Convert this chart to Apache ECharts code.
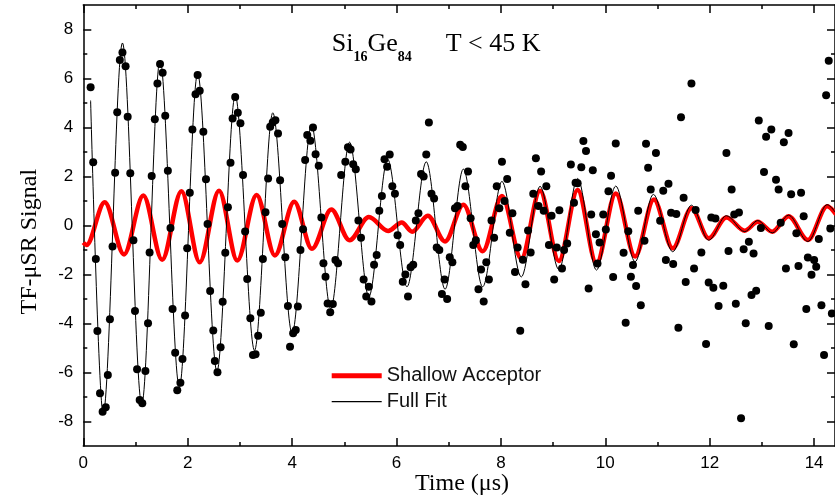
<!DOCTYPE html>
<html><head><meta charset="utf-8">
<script src="https://cdn.jsdelivr.net/npm/echarts@6/dist/echarts.min.js"></script>
<style>html,body{margin:0;padding:0;background:#fff}#c{width:835px;height:496px}</style>
</head><body><div id="c"></div>
<script>
const xMajorTicks = [0, 2, 4, 6, 8, 10, 12, 14];
const xMinorTicks = [1, 3, 5, 7, 9, 11, 13];
const yMajorTicks = [-8, -6, -4, -2, 0, 2, 4, 6, 8];
const yMinorTicks = [-7, -5, -3, -1, 1, 3, 5, 7];

// measured TF-muSR data points [time (us), signal]
const dataPoints = [
 [0.14,5.64],[0.19,2.58],[0.24,-1.37],[0.27,-4.31],[0.32,-6.85],[0.37,-7.6],[0.43,-7.42],[0.47,-6.1],[0.51,-3.83],[0.56,-0.86],
 [0.61,2.15],[0.65,4.62],[0.70,6.76],[0.75,7.06],[0.81,6.5],[0.85,4.44],[0.90,2.13],[0.96,-0.6],[0.99,-3.49],[1.03,-5.87],
 [1.08,-7.12],[1.13,-7.26],[1.19,-5.94],[1.24,-3.99],[1.27,-1.1],[1.31,2.02],[1.37,4.34],[1.42,5.8],[1.47,6.59],[1.52,6.23],
 [1.57,4.48],[1.62,2.23],[1.67,-0.1],[1.71,-3.41],[1.76,-5.19],[1.80,-6.72],[1.86,-6.42],[1.90,-5.45],[1.95,-3.67],[1.99,-0.93],
 [2.04,1.34],[2.09,3.92],[2.15,5.36],[2.19,6.14],[2.23,5.5],[2.30,3.83],[2.35,1.89],[2.38,0.06],[2.43,-2.67],[2.49,-4.29],
 [2.52,-5.53],[2.57,-5.99],[2.63,-4.97],[2.67,-3.11],[2.72,-1.11],[2.77,0.74],[2.82,2.56],[2.86,4.37],[2.91,5.25],[2.96,4.6],
 [3.01,4.17],[3.06,2.06],[3.10,-0.24],[3.14,-2.18],[3.20,-3.79],[3.25,-5.29],[3.30,-5.26],[3.35,-4.5],[3.40,-3.56],[3.44,-1.37],
 [3.49,0.54],[3.54,1.92],[3.58,4.03],[3.63,4.21],[3.68,4.3],[3.73,3.76],[3.77,1.85],[3.81,0.06],[3.87,-1.3],[3.92,-3.29],
 [3.96,-4.95],[4.02,-4.4],[4.07,-4.27],[4.11,-3.31],[4.16,-1.0],[4.21,-0.15],[4.25,2.67],[4.29,3.69],[4.35,3.46],[4.40,4.0],
 [4.45,2.91],[4.51,2.44],[4.56,0.33],[4.60,-1.54],[4.64,-2.09],[4.68,-3.18],[4.73,-3.54],[4.78,-3.2],[4.83,-1.41],[4.88,-1.54],
 [4.94,2.06],[5.02,2.6],[5.07,3.19],
 [5.12,3.1],[5.17,2.5],[5.22,2.3],[5.27,0.2],[5.32,-0.5],[5.37,-2.2],[5.42,-2.9],[5.47,-2.5],[5.52,-3.1],[5.57,-1.6],
 [5.62,-1.2],[5.67,0.6],[5.72,1.2],[5.77,2.7],[5.82,2.4],[5.87,2.9],[5.92,1.6],[5.97,1.3],[6.02,-0.4],[6.07,-0.8],
 [6.12,-2.3],[6.17,-2.0],[6.22,-2.9],[6.27,-1.7],[6.32,-1.6],[6.37,0.2],[6.42,0.5],[6.47,2.1],[6.52,2.0],[6.57,2.9],
 [6.62,4.2],[6.67,1.3],[6.72,1.1],[6.77,-0.9],[6.82,-1.0],[6.87,-2.8],[6.92,-2.2],[6.97,-3.0],[7.02,-1.3],[7.07,-1.5],
 [7.12,0.7],[7.17,0.8],[7.22,3.3],[7.27,3.2],[7.32,1.6],[7.37,2.2],[7.42,0.3],[7.47,-0.8],[7.52,-0.6],[7.57,-2.6],
 [7.62,-1.8],[7.67,-3.1],[7.72,-1.5],[7.77,-2.2],[7.82,0.2],[7.87,-0.5],[7.92,1.6],[7.97,0.7],[8.02,2.6],[8.07,1.0],
 [8.12,1.9],[8.17,-0.3],[8.22,0.5],[8.27,-1.9],[8.32,-0.9],[8.37,-4.3],[8.42,-1.4],[8.47,-2.4],[8.52,-0.2],[8.57,-1.1],
 [8.62,1.3],[8.67,2.74],[8.72,0.8],[8.77,2.2],[8.82,0.6],[8.87,1.6],[8.92,-0.8],[8.97,0.4],[9.02,-2.2],[9.07,-0.9],
 [9.12,0.62],[9.17,-1.75],[9.21,-1.0],[9.27,-0.73],[9.34,2.49],[9.40,0.93],[9.43,1.74],[9.47,1.72],[9.54,2.38],[9.58,3.45],
 [9.63,3.04],[9.68,-2.57],[9.73,0.45],[9.76,2.26],[9.82,-0.36],[9.85,-1.55],[9.89,-0.69],[9.96,0.45],[10.01,-0.16],[10.06,1.4],
 [10.11,2.03],[10.15,-2.1],[10.20,3.35],[10.35,-1.11],[10.39,-3.97],[10.44,-0.23],[10.49,-2.09],[10.53,-1.61],[10.59,-2.47],[10.63,0.6],
 [10.68,-3.25],[10.75,-0.62],[10.78,3.34],[10.82,2.36],[10.87,1.47],[10.97,2.96],[11.05,0.19],[11.11,1.42],[11.16,-1.41],[11.21,1.7],
 [11.26,0.52],[11.30,-1.57],[11.36,0.47],[11.40,-4.17],[11.45,4.42],[11.50,1.13],[11.54,-2.31],[11.65,5.8],[11.70,-1.75],[11.73,0.63],
 [11.84,-1.1],[11.93,-4.84],[11.98,-2.33],[12.03,0.33],[12.07,-2.54],[12.11,0.29],[12.17,-3.29],[12.26,-2.46],[12.32,2.96],[12.36,-1.04],
 [12.42,1.47],[12.47,0.45],[12.50,-3.19],[12.56,0.53],[12.60,-7.87],[12.65,-0.97],[12.69,-3.99],[12.75,-0.66],[12.80,-2.84],[12.84,-1.14],
 [12.89,-2.66],[12.94,4.29],[12.98,-0.1],[13.04,2.18],[13.08,3.62],[13.13,-4.1],[13.18,3.92],[13.27,1.87],[13.32,1.47],[13.36,0.11],
 [13.42,3.4],[13.46,-1.75],[13.51,3.78],[13.56,1.28],[13.61,-4.85],[13.66,-0.32],[13.70,-1.65],[13.75,1.34],[13.80,0.38],[13.85,-3.41],
 [13.88,-1.31],[13.95,-2.01],[14.00,-1.41],[14.04,-1.68],[14.09,-0.55],[14.14,-3.25],[14.19,-5.29],[14.23,5.32],[14.28,6.72],[14.31,-0.12],
 [14.34,-3.59]
];

// Full fit curve: turning points
const fullFitT = [0.14,0.38,0.75,1.12,1.47,1.84,2.19,2.56,2.91,3.28,3.63,4.0,4.37,4.74,5.1,5.47,5.83,6.2,6.57,6.93,7.28,7.65,8.02,8.39,8.75,9.11,9.47,9.83,10.2,10.57,10.92,11.29,11.65,11.98,12.32,12.67,12.92,13.2,13.51,13.88,14.25,14.42];
const fullFitY = [5.1,-7.7,7.45,-7.3,6.75,-6.6,6.2,-5.95,5.3,-5.1,4.6,-4.4,4.1,-3.4,3.4,-2.9,2.7,-2.5,2.6,-2.6,2.3,-2.5,1.8,-2.1,1.6,-1.8,1.92,-1.82,1.61,-1.48,1.27,-1.07,0.83,-0.6,0.4,-0.25,0.2,-0.3,0.42,-0.65,0.85,0.5];

// Shallow acceptor component: turning points
const acceptorT = [0,0.06,0.41,0.78,1.15,1.51,1.88,2.23,2.6,2.95,3.32,3.67,4.04,4.38,4.75,5.1,5.47,5.84,6.1,6.3,6.6,6.93,7.28,7.65,8.02,8.39,8.75,9.11,9.47,9.83,10.2,10.57,10.93,11.29,11.65,11.98,12.32,12.67,12.92,13.2,13.51,13.88,14.25,14.42];
const acceptorY = [-0.7,-0.8,0.95,-1.18,1.22,-1.4,1.4,-1.5,1.42,-1.43,1.25,-1.22,0.97,-0.95,0.65,-0.6,0.35,-0.22,0.12,-0.25,0.4,-0.65,0.85,-1.05,1.2,-1.35,1.42,-1.45,1.45,-1.55,1.31,-1.27,1.06,-0.93,0.7,-0.52,0.33,-0.21,0.15,-0.25,0.38,-0.59,0.79,0.45];

const zip = (a, b) => a.map((v, i) => [v, b[i]]);
const SANS = 'Liberation Sans, Arial, sans-serif';
const SERIF = 'Liberation Serif, Times New Roman, serif';
const gridRect = {left: 83.3, top: 5, width: 753.3, height: 441};

function xAx(gridIndex, position, ticks, len, showLine, showLabel) {
  return {type: 'value', gridIndex, position, min: 0, max: 14.4,
    axisLine: {show: showLine, onZero: false, lineStyle: {color: '#000', width: 1.5}},
    axisTick: {show: true, inside: true, length: len, customValues: ticks, lineStyle: {color: '#000', width: 1.5}},
    axisLabel: {show: showLabel, customValues: ticks, color: '#000', fontSize: 17, fontFamily: SANS, margin: 9},
    splitLine: {show: false}};
}
function yAx(gridIndex, position, ticks, len, showLine, showLabel) {
  return {type: 'value', gridIndex, position, min: -9, max: 9,
    axisLine: {show: showLine, onZero: false, lineStyle: {color: '#000', width: 1.5}},
    axisTick: {show: true, inside: true, length: len, customValues: ticks, lineStyle: {color: '#000', width: 1.5}},
    axisLabel: {show: showLabel, customValues: ticks, color: '#000', fontSize: 17, fontFamily: SANS, margin: 10},
    splitLine: {show: false}};
}
function legendRow(name, top, h) {
  return {orient: 'vertical', left: 331.7, top: top, padding: 0,
    itemWidth: 50, itemHeight: h, icon: 'rect',
    textStyle: {color: '#111', fontSize: 20, fontFamily: SANS, lineHeight: 20},
    data: [name]};
}

const chart = echarts.init(document.getElementById('c'), null, {renderer: 'canvas'});
chart.setOption({
  animation: false,
  backgroundColor: '#fff',
  grid: [Object.assign({}, gridRect), Object.assign({}, gridRect)],
  xAxis: [
    xAx(0, 'bottom', xMajorTicks, 8, true, true),
    xAx(0, 'top', xMajorTicks, 8, true, false),
    xAx(1, 'bottom', xMinorTicks, 4, false, false),
    xAx(1, 'top', xMinorTicks, 4, false, false)
  ],
  yAxis: [
    yAx(0, 'left', yMajorTicks, 8, true, true),
    yAx(0, 'right', yMajorTicks, 8, true, false),
    yAx(1, 'left', yMinorTicks, 4, false, false),
    yAx(1, 'right', yMinorTicks, 4, false, false)
  ],
  legend: [legendRow('Shallow Acceptor', 365.7, 5), legendRow('Full Fit', 391.7, 1.2)],
  graphic: [
    {type: 'text', left: 331.7, top: 31, z: 10, style: {
      text: '{a|Si}{b|16}{a|Ge}{b|84}',
      rich: {a: {fontSize: 26, fontFamily: SERIF, fill: '#000', lineHeight: 40, verticalAlign: 'middle'},
             b: {fontSize: 14, fontWeight: 'bold', fontFamily: SERIF, fill: '#000', lineHeight: 15, verticalAlign: 'bottom'}}}},
    {type: 'text', left: 445.7, top: 31, z: 10, style: {
      text: '{a|T < 45 K}',
      rich: {a: {fontSize: 26, fontFamily: SERIF, fill: '#000', lineHeight: 40, verticalAlign: 'middle'}}}},
    {type: 'text', x: 30, y: 241.7, rotation: Math.PI / 2, z: 10, style: {
      text: 'TF-\u03bcSR Signal', fontSize: 24, fontFamily: SERIF, fill: '#000', align: 'center', verticalAlign: 'middle'}},
    {type: 'text', x: 462, y: 484, z: 10, style: {
      text: 'Time (\u03bcs)', fontSize: 24, fontFamily: SERIF, fill: '#000', align: 'center', verticalAlign: 'middle'}}
  ],
  series: [
    {name: 'Shallow Acceptor', type: 'line', xAxisIndex: 0, yAxisIndex: 0, data: zip(acceptorT, acceptorY),
     smooth: 0.33, smoothMonotone: 'x', symbol: 'none', z: 2,
     lineStyle: {color: '#ff0000', width: 4.5}, itemStyle: {color: '#ff0000'}},
    {name: 'Full Fit', type: 'line', xAxisIndex: 0, yAxisIndex: 0, data: zip(fullFitT, fullFitY),
     smooth: 0.33, smoothMonotone: 'x', symbol: 'none', z: 3,
     lineStyle: {color: '#000', width: 1}, itemStyle: {color: '#000'}},
    {name: 'Data', type: 'scatter', xAxisIndex: 0, yAxisIndex: 0, data: dataPoints,
     symbol: 'circle', symbolSize: 8, z: 4, itemStyle: {color: '#000', opacity: 1}}
  ]
});
</script></body></html>
